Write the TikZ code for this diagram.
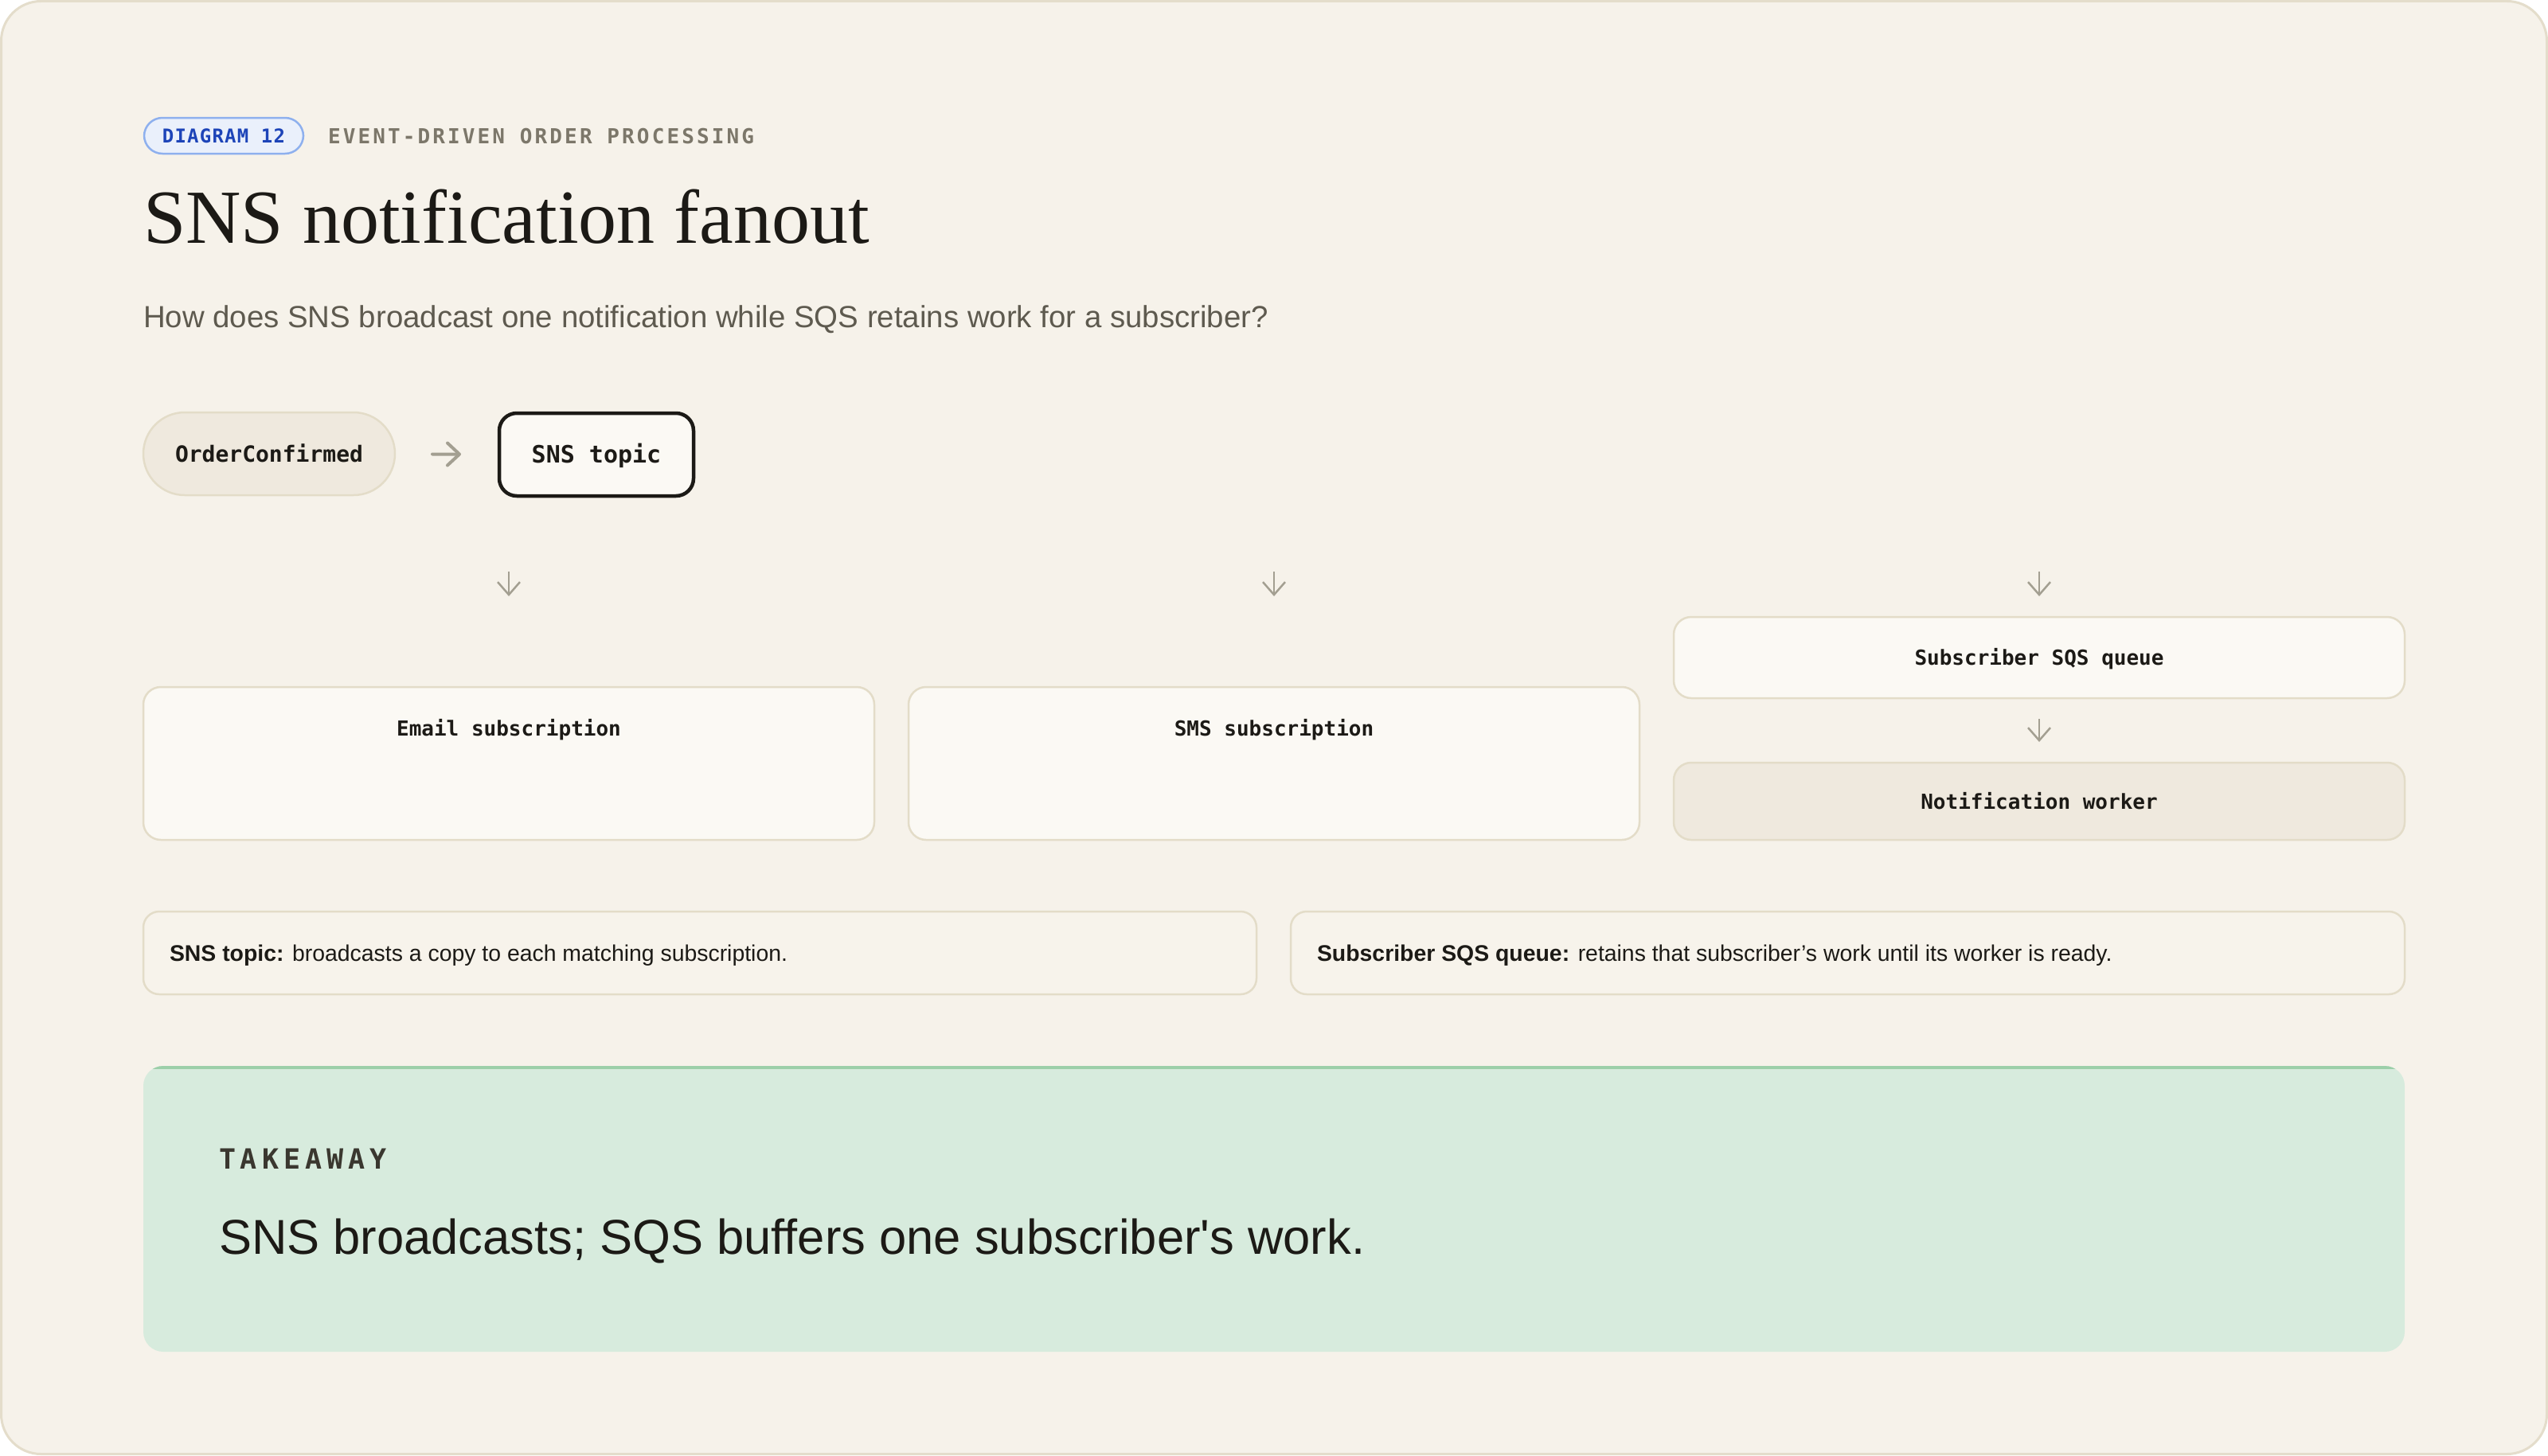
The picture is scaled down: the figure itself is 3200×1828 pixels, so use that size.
\documentclass[tikz,border=0pt]{standalone}
\usepackage{fontspec}
\usetikzlibrary{arrows.meta}
\newfontfamily\monof{DejaVu Sans Mono}
\newfontfamily\sansf{Liberation Sans}
\newfontfamily\seriff{Liberation Serif}
\definecolor{bg}{HTML}{F6F2EA}
\definecolor{frame}{HTML}{E4DDCB}
\definecolor{boxfill}{HTML}{FBF9F4}
\definecolor{pillfill}{HTML}{EFE9DE}
\definecolor{boxline}{HTML}{E3DCC8}
\definecolor{notefill}{HTML}{F7F3EB}
\definecolor{badgefill}{HTML}{EAF0FB}
\definecolor{badgeline}{HTML}{8EB0EE}
\definecolor{badgetext}{HTML}{1D44B8}
\definecolor{arrowc}{HTML}{A39F91}
\definecolor{takefill}{HTML}{D7EBDD}
\definecolor{takeline}{HTML}{9CCFA9}
\definecolor{ink}{HTML}{1C1A16}
\definecolor{subink}{HTML}{5E5A4F}
\definecolor{eyebrow}{HTML}{7C776A}
\definecolor{takelbl}{HTML}{3A372F}
\begin{document}
\begin{tikzpicture}[x=1pt,y=-1pt,
  every node/.style={inner sep=0pt, outer sep=0pt},
  box/.style={draw=boxline, line width=2.5pt, rounded corners=22pt, fill=boxfill},
  pillbox/.style={draw=boxline, line width=2.5pt, fill=pillfill},
  lbl/.style={font={\monof\bfseries\fontsize{26}{30}\selectfont}, text=ink, text height=19pt, text depth=0pt},
  notebox/.style={draw=boxline, line width=2.5pt, rounded corners=20pt, fill=notefill, minimum width=1398pt, minimum height=104pt},
  notetext/.style={font={\sansf\fontsize{28.4}{32}\selectfont}, text=ink, anchor=west, text height=20pt, text depth=0pt},
  darrow/.style={draw=arrowc, line width=2.5pt, -{Straight Barb[length=16pt,width=28pt,line width=2.5pt]}},
  harrow/.style={draw=arrowc, line width=4pt, line cap=round, -{Straight Barb[length=15pt,width=28pt,line width=4pt,round]}}
]
\useasboundingbox (0,0) rectangle (3200,1828);
\fill[white] (0,0) rectangle (3200,1828);
\draw[draw=frame, fill=bg, line width=3pt, rounded corners=50pt] (1.5,1.5) rectangle (3198.5,1826.5);

% header
\node[draw=badgeline, fill=badgefill, line width=2.5pt, rounded corners=23pt,
      minimum width=200pt, minimum height=45pt,
      font={\monof\bfseries\fontsize{24}{28}\selectfont\addfontfeature{LetterSpace=5}},
      text=badgetext, text height=17.5pt, text depth=0pt] (badge) at (281,170.5) {DIAGRAM 12};
\node[anchor=west, font={\monof\bfseries\fontsize{26}{30}\selectfont\addfontfeature{LetterSpace=12}},
      text=eyebrow, text height=19pt, text depth=0pt] (eyebrowt) at (412,170.5) {EVENT-DRIVEN ORDER PROCESSING};
\node[anchor=base west, font={\seriff\fontsize{96}{110}\selectfont}, text=ink] (title) at (180,305) {SNS notification fanout};
\node[anchor=base west, font={\sansf\fontsize{38.4}{44}\selectfont}, text=subink] (subtitle) at (180,411)
  {How does SNS broadcast one notification while SQS retains work for a subscriber?};

% top row
\node[pillbox, rounded corners=52pt, minimum width=316pt, minimum height=104pt,
      font={\monof\bfseries\fontsize{28}{32}\selectfont}, text=ink, text height=20.4pt, text depth=0pt] (evt) at (338,570) {OrderConfirmed};
\node[draw=ink, fill=boxfill, line width=4.5pt, rounded corners=22pt, minimum width=244pt, minimum height=104pt,
      font={\monof\bfseries\fontsize{30}{34}\selectfont}, text=ink, text height=21.9pt, text depth=0pt] (sns) at (749,571) {SNS topic};
\draw[harrow, shorten <=47pt, shorten >=48pt] (evt) -- (sns);

% fan-out arrows
\coordinate (d1a) at (639,718); \coordinate (d1b) at (639,749);
\coordinate (d2a) at (1600,718); \coordinate (d2b) at (1600,749);
\coordinate (d3a) at (2561,718); \coordinate (d3b) at (2561,749);
\draw[darrow] (d1a) -- (d1b);
\draw[darrow] (d2a) -- (d2b);
\draw[darrow] (d3a) -- (d3b);

% subscription boxes
\node[box, minimum width=918pt, minimum height=192pt] (email) at (639,959) {};
\node[lbl] (emailt) at ([yshift=-52pt]email.north) {Email subscription};
\node[box, minimum width=918pt, minimum height=192pt] (sms) at (1600,959) {};
\node[lbl] (smst) at ([yshift=-52pt]sms.north) {SMS subscription};
\node[box, minimum width=918pt, minimum height=102pt] (queue) at (2561,826) {};
\node[lbl] (queuet) at (queue.center) {Subscriber SQS queue};
\node[box, fill=pillfill, minimum width=918pt, minimum height=97pt] (worker) at (2561,1006.5) {};
\node[lbl] (workert) at (worker.center) {Notification worker};
\draw[darrow, shorten <=26pt, shorten >=26pt] (queue) -- (worker);

% notes
\node[notebox] (n1) at (879,1197) {};
\node[notetext] (n1t) at ([xshift=33pt]n1.west) {\textbf{SNS topic:} broadcasts a copy to each matching subscription.};
\node[notebox, minimum width=1399pt] (n2) at (2320.5,1197) {};
\node[notetext] (n2t) at ([xshift=33pt]n2.west) {\textbf{Subscriber SQS queue:} retains that subscriber’s work until its worker is ready.};

% takeaway
\node[fill=takefill, rounded corners=25pt, minimum width=2840pt, minimum height=359pt] (take) at (1600,1518.5) {};
\begin{scope}
  \clip[rounded corners=25pt] (take.north west) rectangle (take.south east);
  \fill[takeline] (take.north west) rectangle ([yshift=-4pt]take.north east);
\end{scope}
\node[anchor=west, font={\monof\bfseries\fontsize{35}{40}\selectfont\addfontfeature{LetterSpace=17}},
      text=takelbl, text height=25.5pt, text depth=0pt] (takelbl) at (275,1456) {TAKEAWAY};
\node[anchor=base west, font={\sansf\fontsize{61.5}{70}\selectfont}, text=ink] (taketext) at (275,1575)
  {SNS broadcasts; SQS buffers one subscriber\symbol{"27}s work.};
\end{tikzpicture}
\end{document}
